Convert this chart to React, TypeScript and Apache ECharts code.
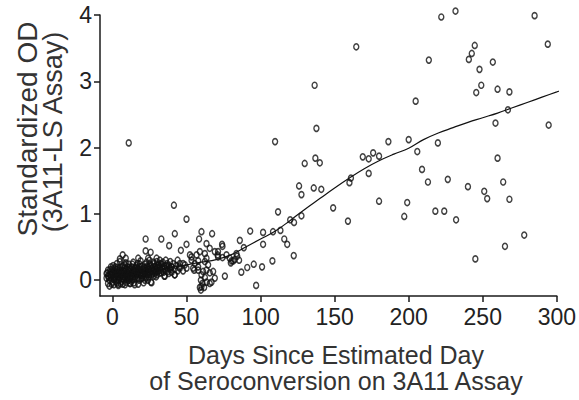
import React, { useEffect, useRef } from "react";
import * as echarts from "echarts";

const xTicks = [0, 50, 100, 150, 200, 250, 300];
const yTicks = [0, 1, 2, 3, 4];

const xTitleLines = ["Days Since Estimated Day", "of Seroconversion on 3A11 Assay"];
const yTitleLines = ["Standardized OD", "(3A11-LS Assay)"];

// [day, standardized OD]
const earlyPoints: number[][] = [
  [-4, 0.03], [-4, 0.1], [-3, -0.05], [-3, 0.06], [-3, 0.15], [-2, 0.0], [-2, 0.09], [-2, -0.09],
  [-1, 0.04], [-1, 0.13], [-1, 0.2], [0, -0.03], [0, 0.07], [0, 0.11], [0, 0.17], [1, 0.01],
  [1, 0.05], [1, 0.14], [1, -0.07], [2, 0.09], [2, 0.02], [2, 0.2], [2, 0.12], [3, -0.04],
  [3, 0.06], [3, 0.16], [3, 0.25], [4, 0.0], [4, 0.1], [4, 0.13], [4, -0.08], [5, 0.04],
  [5, 0.08], [5, 0.19], [5, 0.28], [6, -0.02], [6, 0.11], [6, 0.15], [6, 0.06], [7, 0.02],
  [7, 0.09], [7, 0.22], [7, -0.06], [8, 0.05], [8, 0.13], [8, 0.18], [8, 0.0], [9, 0.08],
  [9, 0.16], [9, 0.26], [9, -0.03], [10, 0.03], [10, 0.11], [10, 0.2], [10, 0.07], [11, 0.14],
  [11, 0.0], [11, 0.24], [11, 0.06], [12, 0.1], [12, 0.17], [12, -0.05], [12, 0.03], [13, 0.12],
  [13, 0.2], [13, 0.07], [13, -0.02], [14, 0.15], [14, 0.05], [14, 0.27], [14, 0.1], [15, 0.02],
  [15, 0.18], [15, 0.12], [15, -0.07], [16, 0.08], [16, 0.22], [16, 0.14], [17, 0.04], [17, 0.17],
  [17, 0.25], [17, 0.1], [18, 0.0], [18, 0.13], [18, 0.2], [19, 0.07], [19, 0.16], [19, 0.29],
  [20, 0.11], [20, 0.03], [20, 0.21], [21, 0.14], [21, 0.08], [21, -0.04], [22, 0.18], [22, 0.24],
  [22, 0.1], [23, 0.05], [23, 0.15], [23, 0.27], [24, 0.12], [24, 0.2], [24, 0.0], [25, 0.09],
  [25, 0.17], [25, 0.3], [26, 0.14], [26, 0.22], [26, -0.03], [27, 0.1], [27, 0.19], [28, 0.25],
  [28, 0.06], [28, 0.15], [29, 0.21], [29, 0.12], [30, 0.18], [30, 0.28], [30, 0.08], [31, 0.14],
  [31, 0.23], [32, 0.19], [32, 0.3], [33, 0.11], [33, 0.24], [34, 0.17], [34, 0.27], [35, 0.06],
  [35, 0.21], [36, 0.14], [36, 0.3], [37, 0.19], [37, 0.25], [38, 0.1], [38, 0.22], [39, 0.16],
  [39, 0.28], [40, 0.2], [40, 0.12], [41, 0.25], [42, 0.17], [42, 0.08], [43, 0.22], [44, 0.3],
  [44, 0.14], [45, 0.2],
  [-3.5, 0.11], [-2.5, 0.04], [-1.5, 0.16], [-0.5, -0.06], [0.5, 0.09], [0.5, 0.22], [1.5, 0.03],
  [1.5, 0.17], [2.5, -0.02], [2.5, 0.07], [3.5, 0.11], [3.5, 0.19], [4.5, 0.05], [4.5, 0.15],
  [5.5, -0.05], [5.5, 0.12], [6.5, 0.02], [6.5, 0.2], [7.5, 0.06], [7.5, 0.13], [8.5, -0.07],
  [8.5, 0.1], [8.5, 0.23], [9.5, 0.04], [9.5, 0.12], [10.5, -0.01], [10.5, 0.16], [11.5, 0.09],
  [11.5, 0.19], [12.5, 0.06], [12.5, 0.14], [13.5, 0.01], [13.5, 0.24], [14.5, 0.08], [14.5, -0.04],
  [15.5, 0.15], [15.5, 0.05], [16.5, 0.11], [16.5, 0.19], [17.5, 0.02], [17.5, 0.13], [18.5, 0.08],
  [18.5, 0.24], [19.5, 0.11], [19.5, 0.02], [20.5, 0.16], [20.5, 0.07], [21.5, 0.19], [21.5, 0.11],
  [22.5, 0.03], [22.5, 0.14], [23.5, 0.21], [23.5, 0.09], [24.5, 0.16], [24.5, 0.05], [25.5, 0.12],
  [25.5, 0.24], [26.5, 0.08], [26.5, 0.18], [27.5, 0.13], [27.5, 0.27], [28.5, 0.1], [28.5, 0.2],
  [29.5, 0.16], [29.5, 0.05], [30.5, 0.13], [30.5, 0.22], [31.5, 0.1], [31.5, 0.18], [32.5, 0.15],
  [32.5, 0.25], [33.5, 0.2], [34.5, 0.12], [35.5, 0.17], [36.5, 0.22], [37.5, 0.13], [38.5, 0.18],
  [6.9, 0.38], [5, 0.32], [9, 0.33], [17.4, 0.33], [24.1, 0.33], [29.8, 0.33],
  [22.4, 0.44], [25.8, 0.42], [22.4, 0.62], [33, 0.62], [38.3, 0.52], [42.1, 0.7],
  [41.5, 1.13], [11, 2.07], [46.2, 0.45], [50, 0.54], [50, 0.92],
  [11.8, -0.05], [17.4, -0.06], [21.9, 0.0], [26.4, -0.04], [3.9, -0.06], [35.4, 0.06],
  [42.1, 0.08], [39.9, 0.2],
];

const midPoints: number[][] = [
  [45.5, 0.25], [47.7, 0.25], [45.5, 0.18], [47.7, 0.14], [48.9, 0.23], [50, 0.18], [52.3, 0.38],
  [53.4, 0.35], [53.4, 0.3], [54.5, 0.18], [55.2, 0.15], [55.6, 0.25], [56.8, 0.38], [57.9, 0.29],
  [57.9, 0.2], [57.9, 0.15], [58.5, 0.62], [59, 0.43], [59, -0.11], [59.7, 0.0], [59.7, -0.15],
  [60.1, 0.73], [60.1, 0.08], [60.1, -0.1], [60.8, -0.05], [61.2, 0.13], [61.9, -0.11], [62.4, 0.28],
  [62.4, 0.4], [62.4, 0.04], [63.5, 0.55], [63.5, 0.33], [63.5, 0.15], [63.5, -0.03], [64.6, 0.23],
  [65.7, 0.48], [65.7, 0.11], [65.7, -0.05], [66.9, -0.03], [67.3, 0.7], [68, 0.13], [69.1, 0.43],
  [69.1, 0.03], [71, 0.38], [71.3, 0.43], [71.3, 0.35], [74, 0.54], [74.3, 0.34], [74.3, 0.51],
  [75.9, 0.06], [77, 0.38], [79.2, 0.33], [79.9, 0.26], [80.4, 0.29], [81.5, 0.29], [82.6, 0.31],
  [83.7, 0.4], [84.2, 0.36], [85.5, 0.3], [86, 0.6], [87, 0.12], [88.7, 0.49], [91, 0.19],
  [93, 0.74], [95.4, 0.24], [97, -0.08], [101, 0.2],
];

const latePoints: number[][] = [
  [101.7, 0.72], [101.7, 0.54], [108, 0.29], [108.4, 0.73], [109.8, 2.09], [111.8, 1.03],
  [113.4, 0.75], [116, 0.62], [118, 0.54], [120, 0.91], [122.4, 0.37], [122.6, 0.87],
  [126, 1.42], [127.6, 1.29], [127.6, 0.97], [129.8, 1.76], [135.9, 1.39], [136.5, 2.94],
  [137, 1.84], [137.7, 2.29], [140, 1.77], [141, 1.37], [149, 1.09], [159, 0.89], [160, 1.47],
  [161, 1.54], [164.6, 3.52], [169, 1.86], [173, 1.83], [173, 1.61], [176, 1.92], [180, 1.87],
  [180, 1.19], [186.3, 2.09], [197, 0.96], [199, 1.17], [200, 2.12], [204.7, 2.7], [205.8, 1.94],
  [209, 1.67], [213, 1.48], [213.6, 3.32], [218, 1.04], [219.7, 2.07], [222, 3.97], [224, 1.04],
  [226.4, 1.52], [231.6, 4.06], [232, 0.91], [240, 1.41], [240.6, 3.33], [242.6, 3.42],
  [244.6, 3.54], [245, 0.32], [245.6, 2.83], [247.8, 3.18], [249, 2.94], [251, 1.34], [253, 1.23],
  [256.8, 3.29], [258.6, 2.37], [260, 2.88], [260, 1.84], [263.8, 1.48], [265, 0.51], [267, 2.57],
  [268, 2.84], [268, 1.22], [278, 0.68], [285, 3.99], [293.9, 3.56], [294.5, 2.34],
];

const trendDays = [-3, 10, 20, 30, 40, 50, 60, 70, 80, 90, 100, 110, 120, 130, 140, 150, 160, 170, 180, 190, 200, 210, 220, 230, 240, 250, 260, 270, 280, 290, 300, 306];
const trendValues = [0.02, 0.07, 0.11, 0.15, 0.19, 0.23, 0.27, 0.31, 0.38, 0.5, 0.62, 0.74, 0.9, 1.07, 1.23, 1.39, 1.54, 1.68, 1.8, 1.9, 1.99, 2.12, 2.22, 2.3, 2.38, 2.45, 2.52, 2.6, 2.68, 2.76, 2.84, 2.89];

const FONT = '"Liberation Sans", Arial, sans-serif';

export default function App() {
  const ref = useRef<HTMLDivElement>(null);
  useEffect(() => {
    if (!ref.current) return;
    const chart = echarts.init(ref.current, null, { renderer: "svg" });
    const axisColor = "#1a1a1a";
    const pointStyle = {
      color: "transparent",
      borderColor: "#111",
      borderWidth: 1.5,
    };
    chart.setOption({
      animation: false,
      backgroundColor: "#ffffff",
      grid: { left: 100, right: 21, top: 15, bottom: 104 },
      xAxis: {
        type: "value",
        min: -8.4,
        max: 300,
        axisLine: { show: true, onZero: false, lineStyle: { color: axisColor, width: 1.5 } },
        axisTick: { show: true, length: 6, customValues: xTicks, lineStyle: { color: axisColor, width: 1.5 } },
        axisLabel: { customValues: xTicks, fontSize: 23, fontFamily: FONT, color: "#222", margin: 9 },
        splitLine: { show: false },
      },
      yAxis: {
        type: "value",
        min: -0.24,
        max: 4,
        axisLine: { show: true, onZero: false, lineStyle: { color: axisColor, width: 1.5 } },
        axisTick: { show: true, length: 6, customValues: yTicks, lineStyle: { color: axisColor, width: 1.5 } },
        axisLabel: { customValues: yTicks, fontSize: 23, fontFamily: FONT, color: "#222", margin: 8 },
        splitLine: { show: false },
      },
      graphic: [
        {
          type: "text",
          x: 336,
          y: 355,
          style: { text: xTitleLines[0], font: `25px ${FONT}`, fill: "#333", align: "center", verticalAlign: "middle" },
        },
        {
          type: "text",
          x: 336,
          y: 381,
          style: { text: xTitleLines[1], font: `25px ${FONT}`, fill: "#333", align: "center", verticalAlign: "middle" },
        },
        {
          type: "text",
          x: 27,
          y: 129,
          rotation: Math.PI / 2,
          style: { text: yTitleLines[0], font: `28px ${FONT}`, fill: "#333", align: "center", verticalAlign: "middle" },
        },
        {
          type: "text",
          x: 53,
          y: 132,
          rotation: Math.PI / 2,
          style: { text: yTitleLines[1], font: `27px ${FONT}`, fill: "#333", align: "center", verticalAlign: "middle" },
        },
      ],
      series: [
        {
          type: "scatter",
          data: [...earlyPoints, ...midPoints, ...latePoints],
          symbol: "circle",
          symbolSize: [5, 6],
          itemStyle: pointStyle,
          clip: false,
        },
        {
          type: "line",
          data: trendDays.map((d, i) => [d, trendValues[i]]),
          smooth: 0.4,
          symbol: "none",
          lineStyle: { color: "#111", width: 1.2 },
          clip: false,
          z: 3,
        },
      ],
    });
    return () => chart.dispose();
  }, []);
  return <div ref={ref} style={{ position: "fixed", left: 0, top: 0, width: 579, height: 400 }} />;
}
